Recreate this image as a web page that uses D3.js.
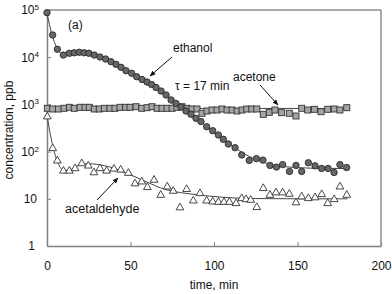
<!DOCTYPE html>
<html>
<head>
<meta charset="utf-8">
<script src="https://cdn.jsdelivr.net/npm/d3@7/dist/d3.min.js"></script>
<style>
  body { margin: 0; background: #fff; }
  svg { display: block; font-family: "Liberation Sans", Arial, sans-serif; }
</style>
</head>
<body>
<div id="chart"></div>
<script>
// measured points, time in min, concentration in ppb
const ethanolTime = [0, 3.4, 6.2, 9.8, 13.4, 16.3, 19.3, 22.2, 25.1, 28.3, 31.7, 35.1, 38.3, 41.3, 44.3, 47.3, 50.7, 53.7,
  56.9, 59.9, 62.6, 65.3, 68.3, 71.3, 74.3, 77.2, 80.2, 83.2, 86.2, 89.2, 92.2, 95.6, 99.2, 102.6, 105.6, 108.6, 112.6,
  116.6, 121.1, 125.4, 129.3, 133.5, 137.4, 141.1, 145.2, 149.1, 152.5, 156.5, 160.5, 164.4, 168.3, 171.9, 175.4, 179.4];
const ethanol = [87700, 29500, 14700, 11100, 12100, 12400, 12700, 12400, 12100, 11100, 10100, 9160, 8040, 7080, 6110, 5180, 4560, 3860,
  3370, 2980, 2640, 2280, 1920, 1580, 1240, 1050, 880, 725, 617, 508, 434, 337, 277, 225, 182, 145, 121,
  85, 65, 71, 66, 51, 47, 53, 38, 51, 38, 58, 50, 44, 44, 36, 53, 46];

const acetoneTime = [0.2, 3.4, 6.8, 10.2, 13.4, 16.3, 19.8, 22.8, 25.3, 28.3, 31.3, 34.3, 37.7, 40.7, 43.7, 47.1, 49.7, 53.3, 56.7,
  59.9, 62.9, 65.9, 68.9, 71.9, 74.9, 77.8, 80.8, 83.8, 86.8, 89.8, 92.8, 95.8, 98.8, 101.8, 104.8, 107.8, 110.8, 113.8, 116.8,
  119.6, 122.6, 125.6, 129.5, 133.1, 136.5, 140.5, 145.1, 149.1, 152.5, 156.1, 160.1, 164.1, 168.1, 172, 175.4, 179.5];
const acetone = [827, 799, 799, 827, 868, 827, 868, 868, 868, 799, 799, 827, 827, 827, 868, 868, 868, 893, 827,
  852, 893, 827, 827, 827, 827, 868, 893, 827, 799, 799, 648, 725, 761, 761, 799, 761, 761, 725, 761,
  799, 799, 799, 617, 680, 761, 667, 648, 568, 827, 761, 787, 700, 787, 799, 761, 852];

const acetaldehydeTime = [0.2, 3.4, 6.2, 9.8, 13.4, 16.8, 20.8, 24.7, 28.1, 31.7, 35.7, 40.1, 44.1, 48.7, 52.7, 56.7, 60.1, 64.1,
  68.1, 72, 75.6, 79.6, 83.6, 87.6, 91.6, 95.6, 99.2, 102.6, 106, 109.2, 113.2, 116.6, 119.2, 122, 125.6, 129.5, 133.5,
  137.1, 141.1, 145.1, 149.1, 152.5, 156.5, 160.5, 164.5, 168.1, 172, 175.4, 179.5];
const acetaldehyde = [550, 117, 64, 39, 39, 44, 56, 50, 36, 44, 39, 43, 41, 35, 21, 23, 17.5, 25,
  12, 18, 14.6, 6.5, 15.9, 9.1, 13, 9.1, 8.7, 8.5, 8.5, 8.5, 8, 10.2, 9.7, 9.4, 6.6, 16.7, 12,
  13.5, 13.5, 12.6, 8.3, 11.1, 10.2, 10.6, 12.4, 8, 9.7, 18, 12];

// model curves
const ethanolFitTime = [0, 3, 6, 9, 12, 17, 22, 27, 32, 37, 42, 47, 52, 57, 62, 67, 72, 77, 82, 87, 92, 97, 102, 107, 112,
  117, 122, 127, 132, 137, 145, 155, 165, 180];
const ethanolFit = [85000, 30000, 15500, 11800, 11800, 12400, 12500, 11800, 10300, 8600, 6900, 5300, 4100, 3300, 2650, 2100,
  1550, 1100, 790, 580, 430, 320, 235, 170, 125, 95, 76, 64, 56, 51, 47, 45, 44, 44];
const acetoneFitTime = [0, 180];
const acetoneFit = [820, 820];
const acetaldehydeFitTime = [0, 2, 4, 6, 8, 10, 13, 17, 22, 27, 32, 37, 42, 47, 52, 57, 62, 68, 75, 85, 95, 105, 115, 130, 150, 180];
const acetaldehydeFit = [600, 230, 110, 65, 46, 40, 40, 47, 55, 55, 52, 48, 42, 35, 30, 25, 21, 17, 14.5, 12.8, 11.6, 10.8, 10.3, 10.1, 10, 10];

const xTicks = [0, 50, 100, 150, 200];
const yTicks = [1, 10, 100, 1000, 10000, 100000];

const margin = { top: 10, right: 11, bottom: 48, left: 47 },
  width = 392 - margin.left - margin.right,
  height = 294 - margin.top - margin.bottom;

const svg = d3.select('#chart')
  .append('svg')
  .attr('width', 392)
  .attr('height', 294);

const g = svg.append('g')
  .attr('transform', 'translate(' + margin.left + ',' + margin.top + ')');

const x = d3.scaleLinear().domain([0, 200]).range([0, width]);
const y = d3.scaleLog().domain([1, 100000]).range([height, 0]);

// frame top and right
g.append('path')
  .attr('d', 'M0,0H' + width + 'V' + height)
  .attr('fill', 'none')
  .attr('stroke', '#555')
  .attr('stroke-width', 1);

const xAxis = g.append('g')
  .attr('transform', 'translate(0,' + height + ')')
  .call(d3.axisBottom(x).tickValues(xTicks).tickSizeInner(-4).tickSizeOuter(0).tickPadding(15));

const yAxis = g.append('g')
  .call(d3.axisLeft(y).tickValues(yTicks).tickSizeInner(-4).tickSizeOuter(0).tickPadding(8).tickFormat(''));

[xAxis, yAxis].forEach(a => {
  a.select('.domain').attr('stroke', '#808080').attr('stroke-width', 1.5);
  a.selectAll('.tick line').attr('stroke', '#808080');
  a.selectAll('text').attr('font-size', 12).attr('fill', '#111')
    .attr('font-family', '"Liberation Sans", Arial, sans-serif');
});

yAxis.selectAll('.tick text').each(function (d) {
  const e = Math.round(Math.log10(d));
  const t = d3.select(this);
  if (e === 0) { t.text('1').attr('dx', -4); return; }
  if (e === 1) { t.text('10').attr('dx', -2); return; }
  t.text('10');
  t.append('tspan').attr('font-size', 8).attr('dy', '-0.55em').text(e);
});

// fitted curves
const line = d3.line()
  .x(d => x(d[0]))
  .y(d => y(d[1]))
  .curve(d3.curveMonotoneX);

[[ethanolFitTime, ethanolFit], [acetoneFitTime, acetoneFit], [acetaldehydeFitTime, acetaldehydeFit]].forEach(s => {
  g.append('path')
    .datum(d3.zip(s[0], s[1]))
    .attr('fill', 'none')
    .attr('stroke', '#444')
    .attr('stroke-width', 1)
    .attr('d', line);
});

// markers
g.append('g').selectAll('path')
  .data(d3.zip(acetaldehydeTime, acetaldehyde))
  .join('path')
  .attr('transform', d => 'translate(' + x(d[0]) + ',' + y(d[1]) + ')')
  .attr('d', d3.symbol(d3.symbolTriangle, 26))
  .attr('fill', '#fff')
  .attr('stroke', '#333')
  .attr('stroke-width', 0.9);

g.append('g').selectAll('rect')
  .data(d3.zip(acetoneTime, acetone))
  .join('rect')
  .attr('x', d => x(d[0]) - 3)
  .attr('y', d => y(d[1]) - 3)
  .attr('width', 6)
  .attr('height', 6)
  .attr('fill', '#a6a6a6')
  .attr('stroke', '#333')
  .attr('stroke-width', 0.9);

g.append('g').selectAll('circle')
  .data(d3.zip(ethanolTime, ethanol))
  .join('circle')
  .attr('cx', d => x(d[0]))
  .attr('cy', d => y(d[1]))
  .attr('r', 3.2)
  .attr('fill', '#666')
  .attr('stroke', '#2a2a2a')
  .attr('stroke-width', 0.9);

// labels and arrows
svg.append('defs').append('marker')
  .attr('id', 'arr')
  .attr('viewBox', '0 0 10 10')
  .attr('refX', 9).attr('refY', 5)
  .attr('markerWidth', 6).attr('markerHeight', 6)
  .attr('orient', 'auto')
  .append('path')
  .attr('d', 'M0,1L10,5L0,9Z')
  .attr('fill', '#111');

const notes = [
  { text: '(a)', x: 68, y: 29, size: 12 },
  { text: 'ethanol', x: 173, y: 52, size: 12 },
  { text: 'τ = 17 min', x: 175, y: 90, size: 12 },
  { text: 'acetone', x: 233, y: 81, size: 12 },
  { text: 'acetaldehyde', x: 65, y: 213, size: 12.5 }
];
svg.selectAll('text.note')
  .data(notes)
  .join('text')
  .attr('class', 'note')
  .attr('x', d => d.x)
  .attr('y', d => d.y)
  .attr('font-size', d => d.size)
  .attr('fill', '#111')
  .text(d => d.text);

const arrows = [[172, 57, 150, 76], [260, 85, 278, 105], [97, 200, 118, 178]];
svg.selectAll('line.arrow')
  .data(arrows)
  .join('line')
  .attr('class', 'arrow')
  .attr('x1', d => d[0]).attr('y1', d => d[1])
  .attr('x2', d => d[2]).attr('y2', d => d[3])
  .attr('stroke', '#111')
  .attr('stroke-width', 1)
  .attr('marker-end', 'url(#arr)');

svg.append('text')
  .attr('x', margin.left + x(100))
  .attr('y', 289)
  .attr('text-anchor', 'middle')
  .attr('font-size', 12)
  .attr('fill', '#111')
  .text('time, min');

svg.append('text')
  .attr('transform', 'translate(13,130) rotate(-90)')
  .attr('text-anchor', 'middle')
  .attr('font-size', 12)
  .attr('fill', '#111')
  .text('concentration, ppb');
</script>
</body>
</html>
